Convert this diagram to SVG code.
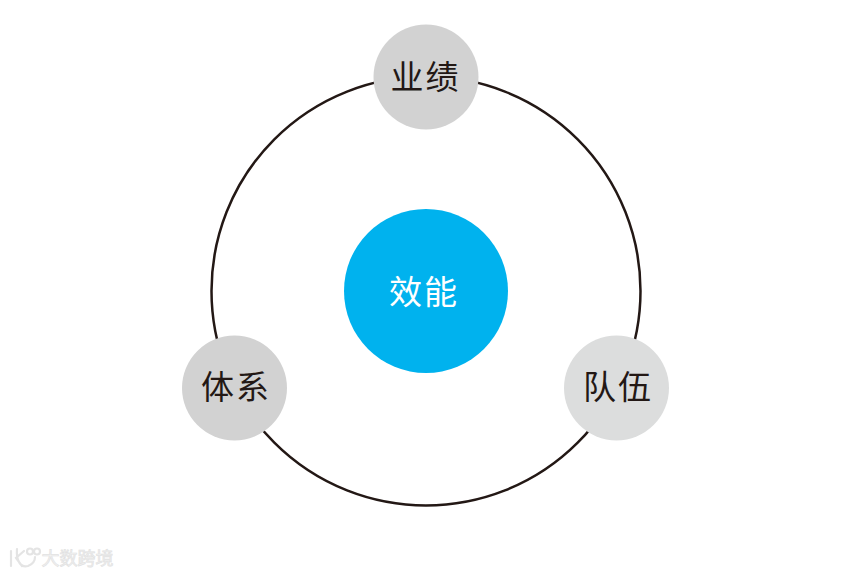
<svg xmlns="http://www.w3.org/2000/svg" width="862" height="575" viewBox="0 0 862 575">
<style>
text{font-family:"Noto Sans CJK SC","Noto Sans",sans-serif;text-anchor:middle}
.l{font-size:33px;fill:#231815;letter-spacing:2px}
.w{fill:none;stroke:#e4e4e4;stroke-width:2.200;stroke-linecap:round}
</style>
<rect width="862" height="575" fill="#fff"/>
<g id="connectors"><circle cx="426" cy="291" r="214.500" fill="none" stroke="#231815" stroke-width="2.500"/></g>
<g id="center"><circle cx="426" cy="291" r="82" fill="#00b2ee"/><text x="424" y="304" font-size="33" fill="#fff" letter-spacing="2">效能</text></g>
<g id="top"><circle cx="426" cy="77" r="52.500" fill="#d2d2d2"/><text class="l" x="425.500" y="89">业绩</text></g>
<g id="left"><circle cx="234.500" cy="388" r="52.500" fill="#d2d2d2"/><text class="l" x="236" y="399">体系</text></g>
<g id="right"><circle cx="616.500" cy="388" r="52.500" fill="#dcdddd"/><text class="l" x="618" y="399">队伍</text></g>
<g id="watermark">
<path class="w" d="M11 551V566M24 551L16 558L22 566M17 549C16 560 20 568 28 566C33 564 35 560 35 557"/>
<circle class="w" cx="30" cy="551.500" r="3" stroke-width="1.500"/><circle class="w" cx="37" cy="551.500" r="3" stroke-width="1.500"/>
<text x="77.500" y="565" font-size="18" fill="#f2f2f2" stroke="#e2e2e2" stroke-width="0.700">大数跨境</text></g>
</svg>
